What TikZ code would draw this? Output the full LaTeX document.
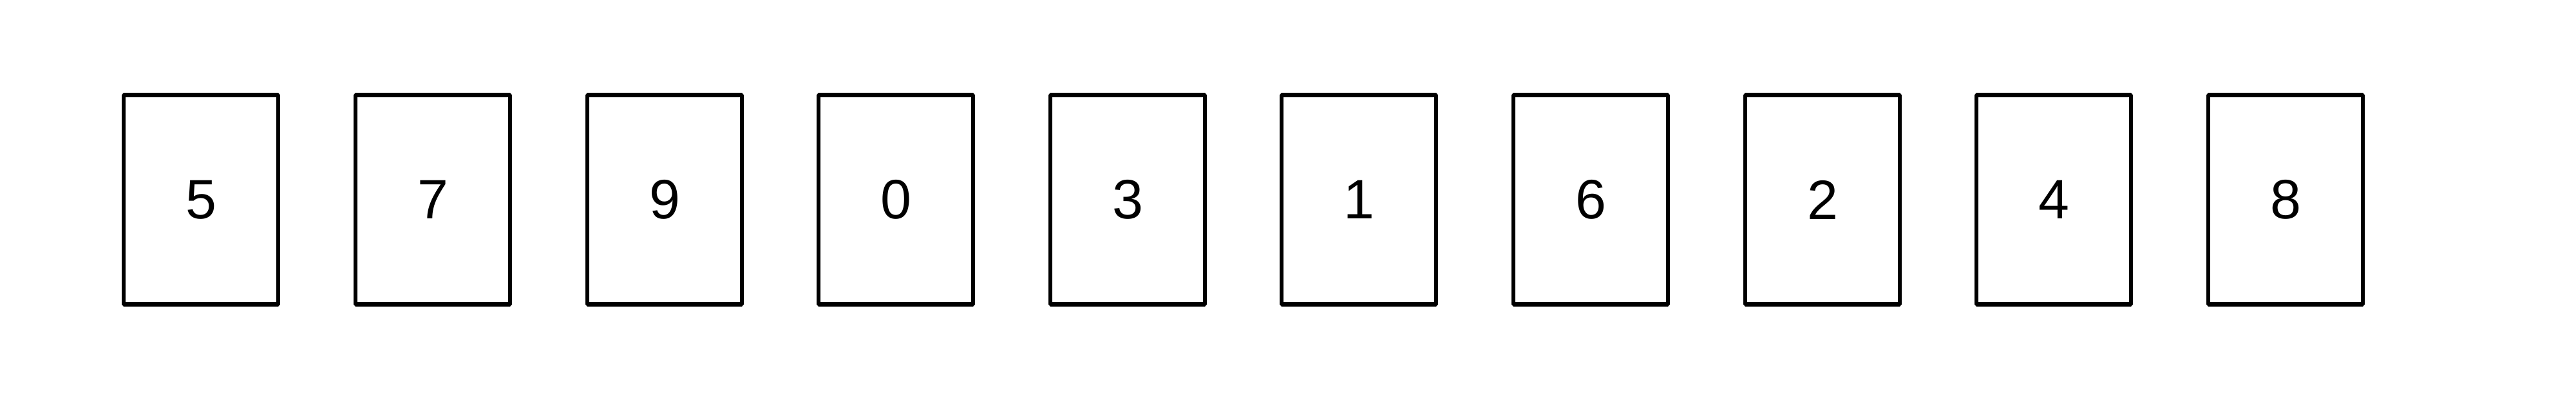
\documentclass[tikz,border=0pt]{standalone}
\usepackage{fontspec}
\setmainfont{Liberation Sans}
\usepackage{tikz}
\usetikzlibrary{positioning}

\begin{document}
\begin{tikzpicture}[line join=bevel]
        \tikzset{card/.style={rectangle,draw,line width=1.8pt,minimum width=2.4cm,minimum height=3.25cm,inner sep=0pt,font=\fontsize{24.5}{28}\selectfont}}
        \useasboundingbox (0,0) rectangle (40,6.2);
        %
        \node[card] (card1) at (3.12,3.1) {5};
        \node[card] (card2) at (6.72,3.1) {7};
        \node[card] (card3) at (10.32,3.1) {9};
        \node[card] (card4) at (13.91,3.1) {0};
        \node[card] (card5) at (17.51,3.1) {3};
        \node[card] (card6) at (21.10,3.1) {1};
        \node[card] (card7) at (24.70,3.1) {6};
        \node[card] (card8) at (28.30,3.1) {2};
        \node[card] (card9) at (31.89,3.1) {4};
        \node[card] (card10) at (35.49,3.1) {8};
        %
    \end{tikzpicture}
\end{document}
